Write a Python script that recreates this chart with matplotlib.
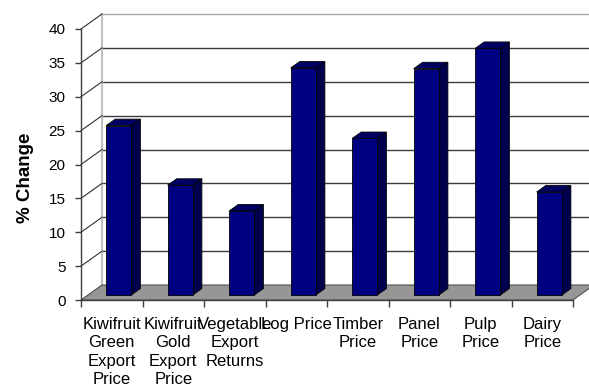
import matplotlib
matplotlib.use("Agg")
import matplotlib.pyplot as plt
from matplotlib.patches import Polygon
import numpy as np

plt.rcParams["font.family"] = ["Liberation Sans", "DejaVu Sans"]

# Data
categories = [
    "Kiwifruit\nGreen\nExport\nPrice",
    "Kiwifruit\nGold\nExport\nPrice",
    "Vegetable\nExport\nReturns",
    "Log Price",
    "Timber\nPrice",
    "Panel\nPrice",
    "Pulp\nPrice",
    "Dairy\nPrice",
]
values = [25.0, 16.2, 12.4, 33.5, 23.1, 33.4, 36.4, 15.2]
y_ticks = [0, 5, 10, 15, 20, 25, 30, 35, 40]
y_label = "% Change"

# Oblique "3D" geometry (in data units)
W, H, DPI = 589, 385, 100
PX_X = 61.5          # pixels per category
PX_Y = 6.775         # pixels per percentage point
X0_PX, Y0_PX = 81, 300
DX = 21 / PX_X       # full depth offset, x
DY = 15 / PX_Y       # full depth offset, y
D_FRONT = 1 / 3      # depth of bar front faces
D_BAR = 0.43         # bar depth (fraction of full depth)
BAR_W = 0.41

FRONT = "#000080"
SIDE = "#00004c"
TOP = "#000062"

fig = plt.figure(figsize=(W / DPI, H / DPI), dpi=DPI, facecolor="white")
ax = fig.add_axes([0, 0, 1, 1])
ax.set_xlim(-X0_PX / PX_X, (W - X0_PX) / PX_X)
ax.set_ylim(-(H - Y0_PX) / PX_Y, Y0_PX / PX_Y)
ax.set_facecolor("white")

n = len(categories)
ymax = y_ticks[-1]

# Back wall gridlines
for v in y_ticks[1:]:
    col = "#a8a8a8" if v == ymax else "#3c3c3c"
    ax.plot([DX, n + DX], [v + DY, v + DY], color=col, lw=1.0, zorder=1)
# Back wall left edge
ax.plot([DX, DX], [DY, ymax + DY], color="#c0c0c0", lw=1.5, zorder=1)
# Side wall gridlines
for v in y_ticks[1:]:
    ax.plot([0, DX], [v, v + DY], color="#303030", lw=0.8, zorder=1)

# Floor
floor = Polygon([(0, 0), (n, 0), (n + DX, DY), (DX, DY)], closed=True,
                facecolor="#969696", edgecolor="#505050", lw=0.8, zorder=2)
ax.add_patch(floor)

# Bars
x_centers = np.arange(n) + 0.5 + DX * D_FRONT
base = DY * D_FRONT
ddx, ddy = DX * D_BAR, DY * D_BAR
ax.bar(x_centers, values, width=BAR_W, bottom=base, color=FRONT,
       edgecolor="black", linewidth=0.6, zorder=4)
for xc, v in zip(x_centers, values):
    xl, xr = xc - BAR_W / 2, xc + BAR_W / 2
    top = base + v
    side = Polygon([(xr, base), (xr + ddx, base + ddy), (xr + ddx, top + ddy), (xr, top)],
                   closed=True, facecolor=SIDE, edgecolor="black", lw=0.6, zorder=3)
    lid = Polygon([(xl, top), (xr, top), (xr + ddx, top + ddy), (xl + ddx, top + ddy)],
                  closed=True, facecolor=TOP, edgecolor="black", lw=0.6, zorder=3)
    ax.add_patch(side)
    ax.add_patch(lid)

# Axes
for s in ("top", "right"):
    ax.spines[s].set_visible(False)
ax.spines["left"].set_position(("data", 0))
ax.spines["left"].set_bounds(0, ymax)
ax.spines["bottom"].set_position(("data", 0))
ax.spines["bottom"].set_bounds(0, n)
for s in ("left", "bottom"):
    ax.spines[s].set_color("#404040")
    ax.spines[s].set_linewidth(1.0)
    ax.spines[s].set_zorder(5)

ax.set_yticks(y_ticks)
ax.set_yticklabels([str(t) for t in y_ticks])
ax.tick_params(axis="y", direction="out", length=4, width=1.0, color="#404040",
               pad=7, labelsize=11)

ax.set_xticks(np.arange(n + 1))
ax.set_xticklabels([])
ax.set_xticks(np.arange(n) + 0.5, minor=True)
ax.set_xticklabels(categories, minor=True, linespacing=1.26)
ax.tick_params(axis="x", which="major", direction="out", length=5, width=1.0,
               color="#404040")
ax.tick_params(axis="x", which="minor", length=0, pad=12.5, labelsize=12)

fig.text(25 / W, 1 - 178 / H, y_label, rotation=90, ha="center", va="center",
         fontsize=13.5, fontweight="bold")

fig.savefig("out.png", dpi=DPI, facecolor="white")
